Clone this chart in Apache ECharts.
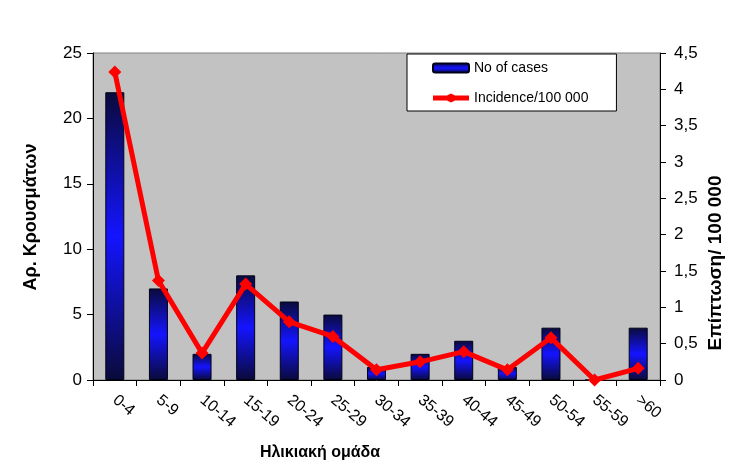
<!DOCTYPE html>
<html>
<head>
<meta charset="utf-8">
<script src="https://cdn.jsdelivr.net/npm/echarts@6/dist/echarts.min.js"></script>
<style>html,body{margin:0;padding:0;background:#fff}#c{width:744px;height:470px}</style>
</head>
<body>
<div id="c"></div>
<script>
const categories = ['0-4','5-9','10-14','15-19','20-24','25-29','30-34','35-39','40-44','45-49','50-54','55-59','>60'];
const cases = [22, 7, 2, 8, 6, 5, 1, 2, 3, 1, 4, 0, 4];
const incidence = [4.24, 1.37, 0.37, 1.32, 0.8, 0.6, 0.14, 0.25, 0.39, 0.14, 0.58, 0, 0.16];
const leftTitle = 'Αρ. Κρουσμάτων';
const rightTitle = 'Επίπτωση/ 100 000';
const xTitle = 'Ηλικιακή ομάδα';
const seriesNames = ['No of cases', 'Incidence/100 000'];

const FONT = 'Liberation Sans, Arial, sans-serif';
const chart = echarts.init(document.getElementById('c'));
const barGrad = new echarts.graphic.LinearGradient(0, 0, 0, 1, [
  {offset: 0, color: '#0a0a3a'},
  {offset: 0.5, color: '#1414ff'},
  {offset: 1, color: '#0a0a3a'}
]);
chart.setOption({
  animation: false,
  backgroundColor: '#ffffff',
  textStyle: {fontFamily: FONT},
  grid: {left: 93, right: 84, top: 53, bottom: 90, show: true, backgroundColor: '#c2c2c2', borderColor: '#808080', borderWidth: 1},
  legend: {
    orient: 'vertical', left: 407, top: 54,
    padding: [7, 28, 6, 25], itemGap: 16,
    backgroundColor: '#ffffff', borderColor: '#000', borderWidth: 1,
    itemWidth: 36, itemHeight: 9,
    textStyle: {fontFamily: FONT, fontSize: 14, color: '#000'},
    data: [
      {name: seriesNames[0]},
      {name: seriesNames[1], icon: 'path://M0,2 L14,2 L18,0 L22,2 L36,2 L36,7 L22,7 L18,9 L14,7 L0,7 Z', itemStyle: {color: '#ff0000'}}
    ]
  },
  xAxis: {
    type: 'category', data: categories,
    axisLine: {lineStyle: {color: '#000', width: 1}},
    axisTick: {show: true, length: 6, lineStyle: {color: '#000'}},
    axisLabel: {rotate: -40, fontSize: 16, color: '#000', margin: 18, fontFamily: FONT, interval: 0}
  },
  yAxis: [
    {type: 'value', min: 0, max: 25, interval: 5,
     axisLine: {show: true, lineStyle: {color: '#000'}},
     axisTick: {show: true, length: 6, lineStyle: {color: '#000'}},
     splitLine: {show: false},
     axisLabel: {fontSize: 17, color: '#000', margin: 11, fontFamily: FONT}},
    {type: 'value', min: 0, max: 4.5, interval: 0.5, position: 'right',
     axisLine: {show: true, lineStyle: {color: '#000'}},
     axisTick: {show: true, length: 6, lineStyle: {color: '#000'}},
     splitLine: {show: false},
     axisLabel: {fontSize: 17, color: '#000', margin: 14, fontFamily: FONT,
       formatter: v => String(v).replace('.', ',')}}
  ],
  graphic: [
    {type: 'text', x: 31, y: 217, rotation: Math.PI/2, style: {text: leftTitle, font: 'bold 18px ' + FONT, fill: '#000', textAlign: 'center', textVerticalAlign: 'middle'}},
    {type: 'text', x: 716, y: 263, rotation: Math.PI/2, style: {text: rightTitle, font: 'bold 19px ' + FONT, fill: '#000', textAlign: 'center', textVerticalAlign: 'middle'}},
    {type: 'text', x: 320, y: 453, style: {text: xTitle, font: 'bold 16px ' + FONT, fill: '#000', textAlign: 'center', textVerticalAlign: 'middle'}}
  ],
  series: [
    {name: seriesNames[0], type: 'bar', data: cases, barWidth: 19, yAxisIndex: 0,
     itemStyle: {color: barGrad, borderColor: '#000018', borderWidth: 1}},
    {name: seriesNames[1], type: 'line', data: incidence, yAxisIndex: 1,
     lineStyle: {color: '#ff0000', width: 5}, itemStyle: {color: '#ff0000'},
     symbol: 'diamond', symbolSize: 13, showAllSymbol: true}
  ]
});
</script>
</body>
</html>
